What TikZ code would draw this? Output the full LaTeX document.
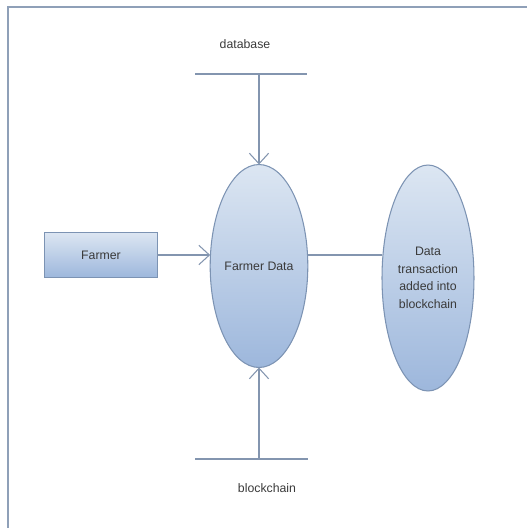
\documentclass[tikz,border=0pt]{standalone}
\usepackage{fontspec}
\setmainfont{Liberation Sans}
\usetikzlibrary{shapes.geometric,arrows.meta}
\definecolor{linegray}{HTML}{8395AF}
\definecolor{edgeblue}{HTML}{7C93B3}
\definecolor{filltop}{HTML}{DCE6F2}
\definecolor{fillbot}{HTML}{9DB7DC}
\definecolor{textgray}{HTML}{3A3A3A}
\definecolor{framecol}{HTML}{8FA0B8}
\begin{document}
\begin{tikzpicture}[x=0.02cm,y=-0.02cm,inner sep=0pt,outer sep=0pt,line width=0.6pt,
font=\fontsize{7}{10}\selectfont,text=textgray,
>={Straight Barb[length=6pt,width=11pt]},
process/.style={draw=edgeblue,ellipse,top color=filltop,bottom color=fillbot,align=center},
entity/.style={draw=edgeblue,rectangle,top color=filltop,bottom color=fillbot,minimum width=2.26cm,minimum height=0.9cm}]

\useasboundingbox (0,0) rectangle (527,528);
\draw[framecol] (8,7) rectangle (560,560);

\draw (101,255) node[entity] (farmer) {Farmer};
\draw (259,266) node[process,minimum width=1.86cm,minimum height=4.06cm] (fdata) {Farmer Data};
\draw (428,278) node[process,minimum width=1.84cm,minimum height=4.52cm] (txn) {Data\\transaction\\added into\\blockchain};

% data stores
\coordinate (dbL) at (195,74);
\coordinate (dbR) at (307,74);
\coordinate (dbmid) at (259,74);
\coordinate (bcL) at (195,459);
\coordinate (bcR) at (308,459);
\coordinate (bcmid) at (259,459);
\draw (245,44) node (dblabel) {database};
\draw (267,488) node (bclabel) {blockchain};

\draw[linegray] (dbL) -- (dbR);
\draw[linegray] (bcL) -- (bcR);
\draw[linegray,->] (dbmid) -- (fdata.north);
\draw[linegray,->] (bcmid) -- (fdata.south);
\draw[linegray,->] (farmer.east) -- (fdata.west |- farmer.east);
\draw[linegray] (fdata.east |- farmer.east) -- (txn.west |- farmer.east);

\end{tikzpicture}
\end{document}
